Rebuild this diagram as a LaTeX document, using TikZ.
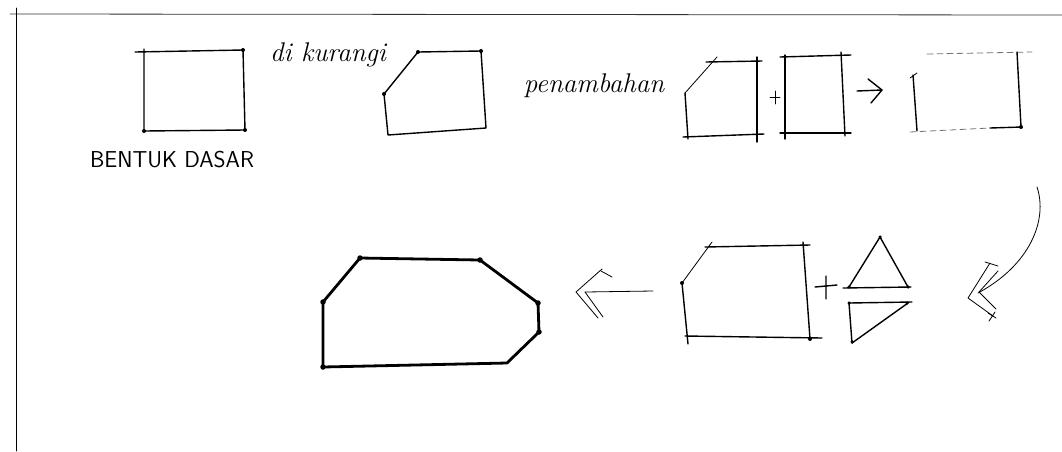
\documentclass[tikz,border=0pt]{standalone}
\usetikzlibrary{calc}
\begin{document}
\begin{tikzpicture}[x=1pt,y=-1pt,
  pen/.style={line width=1.4pt,line cap=round,line join=round,black},
  thin pen/.style={line width=0.8pt,line cap=round,line join=round,black},
  bold pen/.style={line width=2.8pt,line cap=round,line join=round,black},
  faint/.style={line width=0.8pt,line cap=round,black!55,dash pattern=on 6pt off 4pt},
  dot/.style={circle,fill=black,inner sep=0pt,minimum size=4pt},
  hand/.style={font=\fontsize{27}{27}\selectfont\itshape,inner sep=0pt}]
\useasboundingbox (0,0) rectangle (1062,451);
\fill[white] (0,0) rectangle (1062,451);
% frame
\draw[thin pen,black!80] (10,14) -- (1062,15);
\draw[thin pen] (16,8) -- (16,451);
% basic rectangle
\draw[pen] (135,52) -- (243,50) -- (245,130) -- (144,131) -- (144,49);
\foreach \p in {(243,50),(245,130),(144,131)} \node[dot] at \p {};
\node[hand,font=\fontsize{23}{23}\selectfont\sffamily] (lbl1) at (172,160) {BENTUK DASAR};
% di kurangi
\node[hand] (lbl2) at (328,55) {di kurangi};
\draw[pen] (384,94) -- (418,52) -- (481,51) -- (486,128) -- (388,135) -- cycle;
\foreach \p in {(384,94),(418,52),(481,51)} \node[dot] at \p {};
% penambahan
\node[hand] (lbl3) at (594,86) {penambahan};
\draw[thin pen] (685,93) -- (717,57);
\draw[pen] (706,62) -- (762,61);
\draw[pen] (757,57) -- (757,142);
\draw[pen] (685,93) -- (688,139);
\draw[pen] (683,137) -- (764,134);
\draw[thin pen] (770,97) -- (780,97) (775,91) -- (775,104);
% added rectangle
\draw[pen] (785,55) -- (785,139);
\draw[pen] (780,57) -- (851,55);
\draw[pen] (841,52) -- (845,136);
\draw[pen] (780,133) -- (851,133);
% arrow right
\draw[pen] (857,91) -- (882,90);
\draw[pen] (868,79) -- (882,90) -- (871,103);
% result rectangle
\draw[pen] (913,75) -- (917,131);
\draw[thin pen] (910,78) -- (917,73);
\draw[faint] (927,54) -- (1032,52);
\draw[pen] (1017,52) -- (1021,127);
\draw[faint] (910,132) -- (990,128);
\draw[pen] (990,128) -- (1022,127);
\node[dot] at (1021,127) {};
% curved arrow
\draw[thin pen] (1037,187) .. controls (1048,220) and (1030,265) .. (978,293);
\draw[thin pen] (990,263) -- (968,298) -- (993,316);
\draw[thin pen] (998,271) -- (979,292) -- (996,309);
\draw[thin pen] (985,262) -- (998,266) (988,313) -- (996,318) (989,321) -- (995,312);
% second stage shape
\draw[pen] (705,247) -- (810,245);
\draw[thin pen] (712,242) -- (682,283);
\draw[pen] (682,283) -- (688,344);
\draw[pen] (685,336) -- (822,338);
\draw[pen] (803,242) -- (810,339);
\foreach \p in {(682,283),(810,339)} \node[dot] at \p {};
\draw[pen] (815,287) -- (837,285) (826,276) -- (826,299);
% triangles
\draw[pen] (843,288) -- (911,287);
\draw[pen] (849,287) -- (880,237) -- (908,287);
\draw[pen] (849,303) -- (912,302);
\draw[pen] (849,303) -- (852,343) -- (908,303);
\foreach \p in {(880,237),(849,287),(908,287),(849,303),(852,342),(907,303)} \node[dot,minimum size=3.5pt] at \p {};
% arrow left
\draw[thin pen] (653,291) -- (585,292);
\draw[thin pen] (602,269) -- (576,292) -- (598,318);
\draw[thin pen] (612,277) -- (601,271) (585,292) -- (603,317);
% final shape
\draw[bold pen] (360,258) -- (480,260) -- (538,303) -- (539,332) -- (507,363) -- (323,367) -- (323,302) -- cycle;
\foreach \p in {(360,258),(480,260),(538,303),(539,332),(323,367),(323,302)} \node[dot,minimum size=5.5pt] at \p {};
\end{tikzpicture}
\end{document}
